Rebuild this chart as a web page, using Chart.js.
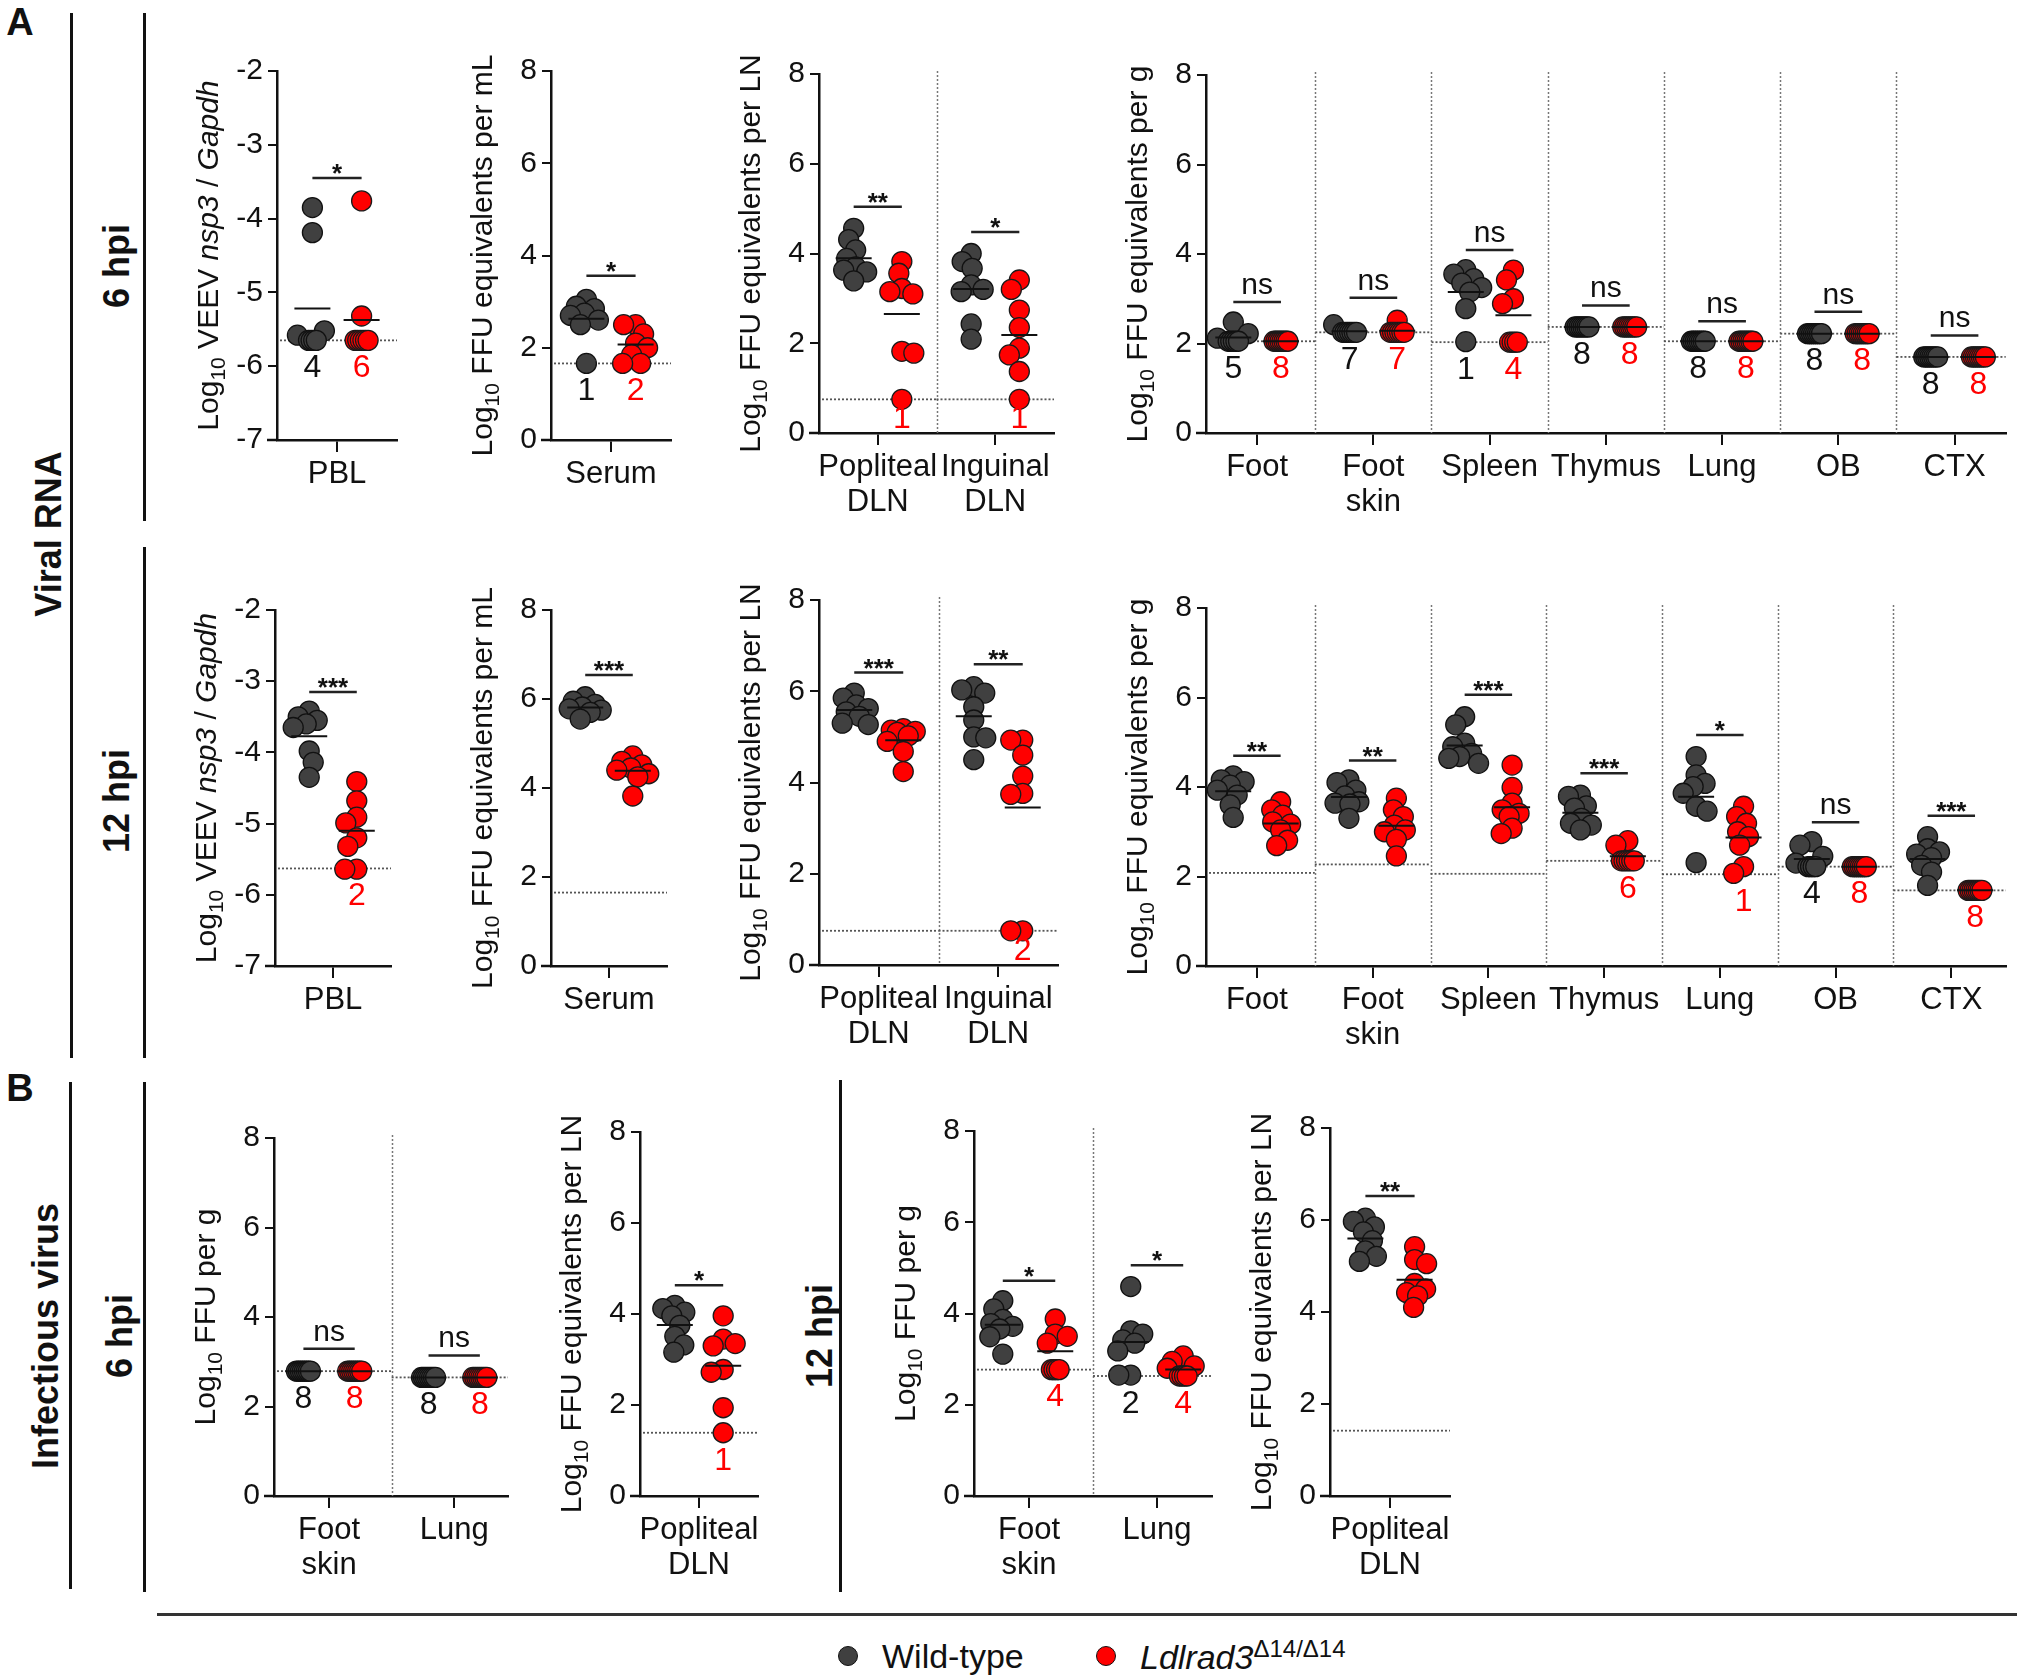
<!DOCTYPE html>
<html>
<head>
<meta charset="utf-8">
<script src="https://cdn.jsdelivr.net/npm/chart.js@4.4.0/dist/chart.umd.min.js"></script>
<style>
body { margin: 0; background: #fff; }
#page { position: relative; width: 2017px; height: 1675px; overflow: hidden; background: #fff;
        font-family: 'Liberation Sans', Arial, sans-serif; color: #111; }
#page canvas { position: absolute; }
.vl { position: absolute; width: 3px; background: #111; }
.hl { position: absolute; height: 3px; background: #333; }
.rot { position: absolute; font-weight: bold; font-size: 36px; white-space: nowrap;
       transform: translate(-50%, -50%) rotate(-90deg); }
.pl { position: absolute; font-weight: bold; font-size: 38px; transform: translate(-50%, -50%); }
.dot { position: absolute; width: 20px; height: 20px; border-radius: 50%; border: 1.5px solid #111;
       transform: translate(-50%, -50%); box-sizing: border-box; }
.lt { position: absolute; font-size: 34px; white-space: nowrap; transform: translateY(-50%); }
</style>
</head>
<body>
<div id="page">
  <div class="pl" style="left:20px;top:22px">A</div>
  <div class="pl" style="left:20px;top:1088px">B</div>

  <div class="vl" style="left:70px;top:13px;height:1045px"></div>
  <div class="vl" style="left:143px;top:13px;height:508px"></div>
  <div class="vl" style="left:143px;top:547px;height:511px"></div>
  <div class="vl" style="left:69px;top:1082px;height:507px"></div>
  <div class="vl" style="left:143px;top:1082px;height:510px"></div>
  <div class="vl" style="left:839px;top:1080px;height:512px"></div>
  <div class="hl" style="left:157px;top:1613px;width:1860px"></div>

  <div class="rot" style="left:49px;top:534px">Viral RNA</div>
  <div class="rot" style="left:117px;top:266px">6 hpi</div>
  <div class="rot" style="left:117px;top:801px">12 hpi</div>
  <div class="rot" style="left:46px;top:1336px">Infectious virus</div>
  <div class="rot" style="left:120px;top:1336px">6 hpi</div>
  <div class="rot" style="left:820px;top:1336px">12 hpi</div>

  <div class="dot" style="left:848px;top:1656px;background:#404040"></div>
  <div class="lt" style="left:882px;top:1656px">Wild-type</div>
  <div class="dot" style="left:1106px;top:1656px;background:#ff0000"></div>
  <div class="lt" style="left:1140px;top:1656px"><i>Ldlrad3</i><sup style="font-size:24px">Δ14/Δ14</sup></div>
</div>

<script>
// categories
const catPbl = ['PBL'];
const catSerum = ['Serum'];
const catLn = [['Popliteal', 'DLN'], ['Inguinal', 'DLN']];
const catTissue = ['Foot', ['Foot', 'skin'], 'Spleen', 'Thymus', 'Lung', 'OB', 'CTX'];
const catSkinLung = [['Foot', 'skin'], 'Lung'];
const catPop = [['Popliteal', 'DLN']];

// A, 6 hpi
const pbl6Wt = [-3.85, -4.19, -5.52, -5.58, -5.65, -5.65, -5.65, -5.65];
const pbl6Ko = [-3.76, -5.32, -5.65, -5.65, -5.65, -5.65, -5.65, -5.65];
const pbl6Lod = [-5.65];
const pbl6Sig = ['*'];
const pbl6SigY = [-3.45];
const pbl6CntWt = [4];
const pbl6CntKo = [6];

const ser6Wt = [3.05, 2.9, 2.85, 2.75, 2.7, 2.6, 2.5, 1.66];
const ser6Ko = [2.5, 2.5, 2.3, 2.1, 2.0, 1.85, 1.66, 1.66];
const ser6Lod = [1.66];
const ser6Sig = ['*'];
const ser6SigY = [3.56];
const ser6CntWt = [1];
const ser6CntKo = [2];

const ln6Wt = [[4.56, 4.31, 4.08, 3.89, 3.7, 3.63, 3.59, 3.39], [4.0, 3.82, 3.67, 3.3, 3.2, 3.15, 2.43, 2.09]];
const ln6Ko = [[3.82, 3.56, 3.22, 3.15, 3.1, 1.82, 1.78, 0.75], [3.41, 3.2, 2.74, 2.35, 1.89, 1.74, 1.37, 0.75]];
const ln6Lod = [0.75, 0.75];
const ln6Sig = ['**', '*'];
const ln6SigY = [5.04, 4.48];
const ln6CntWt = [null, null];
const ln6CntKo = [1, 1];

const tis6Wt = [
  [2.48, 2.22, 2.12, 2.05, 2.05, 2.05, 2.05, 2.05],
  [2.42, 2.25, 2.25, 2.25, 2.25, 2.25, 2.25, 2.25],
  [3.65, 3.55, 3.45, 3.35, 3.25, 3.15, 2.78, 2.04],
  [2.37, 2.37, 2.37, 2.37, 2.37, 2.37, 2.37, 2.37],
  [2.05, 2.05, 2.05, 2.05, 2.05, 2.05, 2.05, 2.05],
  [2.22, 2.22, 2.22, 2.22, 2.22, 2.22, 2.22, 2.22],
  [1.7, 1.7, 1.7, 1.7, 1.7, 1.7, 1.7, 1.7]
];
const tis6Ko = [
  [2.05, 2.05, 2.05, 2.05, 2.05, 2.05, 2.05, 2.05],
  [2.52, 2.25, 2.25, 2.25, 2.25, 2.25, 2.25, 2.25],
  [3.64, 3.42, 3.0, 2.89, 2.03, 2.03, 2.03, 2.03],
  [2.37, 2.37, 2.37, 2.37, 2.37, 2.37, 2.37, 2.37],
  [2.05, 2.05, 2.05, 2.05, 2.05, 2.05, 2.05, 2.05],
  [2.22, 2.22, 2.22, 2.22, 2.22, 2.22, 2.22, 2.22],
  [1.7, 1.7, 1.7, 1.7, 1.7, 1.7, 1.7, 1.7]
];
const tis6Lod = [2.05, 2.25, 2.03, 2.37, 2.05, 2.22, 1.7];
const tis6Sig = ['ns', 'ns', 'ns', 'ns', 'ns', 'ns', 'ns'];
const tis6SigY = [2.93, 3.02, 4.09, 2.85, 2.5, 2.71, 2.18];
const tis6CntWt = [5, 7, 1, 8, 8, 8, 8];
const tis6CntKo = [8, 7, 4, 8, 8, 8, 8];

// A, 12 hpi
const pbl12Wt = [-3.42, -3.5, -3.55, -3.6, -3.65, -3.98, -4.14, -4.35];
const pbl12Ko = [-4.41, -4.68, -4.91, -4.99, -5.2, -5.32, -5.64, -5.64];
const pbl12Lod = [-5.63];
const pbl12Sig = ['***'];
const pbl12SigY = [-3.15];
const pbl12CntWt = [null];
const pbl12CntKo = [2];

const ser12Wt = [6.05, 5.95, 5.88, 5.82, 5.78, 5.75, 5.7, 5.55];
const ser12Ko = [4.72, 4.6, 4.52, 4.45, 4.4, 4.32, 4.25, 3.82];
const ser12Lod = [1.65];
const ser12Sig = ['***'];
const ser12SigY = [6.54];
const ser12CntWt = [null];
const ser12CntKo = [null];

const ln12Wt = [[5.96, 5.85, 5.7, 5.62, 5.55, 5.45, 5.3, 5.27], [6.1, 6.03, 5.96, 5.66, 5.37, 5.0, 4.98, 4.5]];
const ln12Ko = [[5.18, 5.15, 5.12, 5.1, 5.02, 4.9, 4.68, 4.24], [4.93, 4.93, 4.6, 4.14, 3.76, 3.74, 0.75, 0.75]];
const ln12Lod = [0.75, 0.75];
const ln12Sig = ['***', '**'];
const ln12SigY = [6.41, 6.59];
const ln12CntWt = [null, null];
const ln12CntKo = [null, 2];

const tis12Wt = [
  [4.25, 4.16, 4.12, 4.04, 3.93, 3.82, 3.6, 3.32],
  [4.16, 4.1, 3.93, 3.8, 3.67, 3.64, 3.62, 3.3],
  [5.57, 5.39, 4.98, 4.9, 4.75, 4.68, 4.64, 4.53],
  [3.82, 3.79, 3.58, 3.53, 3.3, 3.19, 3.15, 3.04],
  [4.68, 4.27, 4.08, 4.01, 3.86, 3.57, 3.46, 2.31],
  [2.78, 2.7, 2.45, 2.3, 2.22, 2.22, 2.22, 2.22],
  [2.89, 2.62, 2.55, 2.5, 2.42, 2.25, 2.1, 1.8]
];
const tis12Ko = [
  [3.67, 3.49, 3.37, 3.22, 3.17, 3.04, 2.81, 2.69],
  [3.75, 3.49, 3.34, 3.15, 3.04, 3.0, 2.83, 2.46],
  [4.49, 3.99, 3.64, 3.49, 3.41, 3.34, 3.08, 2.96],
  [2.8, 2.7, 2.35, 2.35, 2.35, 2.35, 2.35, 2.35],
  [3.57, 3.34, 3.19, 3.0, 2.89, 2.7, 2.22, 2.07],
  [2.22, 2.22, 2.22, 2.22, 2.22, 2.22, 2.22, 2.22],
  [1.69, 1.69, 1.69, 1.69, 1.69, 1.69, 1.69, 1.69]
];
const tis12Lod = [2.08, 2.27, 2.06, 2.35, 2.05, 2.22, 1.69];
const tis12Sig = ['**', '**', '***', '***', '*', 'ns', '***'];
const tis12SigY = [4.7, 4.59, 6.06, 4.31, 5.16, 3.21, 3.36];
const tis12CntWt = [null, null, null, null, null, 4, null];
const tis12CntKo = [null, null, null, 6, 1, 8, 8];

// B, 6 hpi
const inf6Wt = [[2.79, 2.79, 2.79, 2.79, 2.79, 2.79, 2.79, 2.79], [2.65, 2.65, 2.65, 2.65, 2.65, 2.65, 2.65, 2.65]];
const inf6Ko = [[2.79, 2.79, 2.79, 2.79, 2.79, 2.79, 2.79, 2.79], [2.65, 2.65, 2.65, 2.65, 2.65, 2.65, 2.65, 2.65]];
const inf6Lod = [2.79, 2.65];
const inf6Sig = ['ns', 'ns'];
const inf6SigY = [3.29, 3.14];
const inf6CntWt = [8, 8];
const inf6CntKo = [8, 8];

const pop6Wt = [4.19, 4.12, 4.04, 3.96, 3.75, 3.51, 3.32, 3.16];
const pop6Ko = [3.96, 3.45, 3.35, 3.3, 2.78, 2.72, 1.94, 1.39];
const pop6Lod = [1.39];
const pop6Sig = ['*'];
const pop6SigY = [4.63];
const pop6CntWt = [null];
const pop6CntKo = [1];

// B, 12 hpi
const inf12Wt = [[4.28, 4.1, 3.87, 3.78, 3.72, 3.66, 3.49, 3.11], [4.59, 3.62, 3.55, 3.42, 3.35, 3.18, 2.65, 2.65]];
const inf12Ko = [[3.88, 3.55, 3.5, 3.35, 2.77, 2.77, 2.77, 2.77], [3.07, 2.95, 2.85, 2.8, 2.63, 2.63, 2.63, 2.63]];
const inf12Lod = [2.77, 2.63];
const inf12Sig = ['*', '*'];
const inf12SigY = [4.72, 5.06];
const inf12CntWt = [null, 2];
const inf12CntKo = [4, 4];

const pop12Wt = [6.04, 5.97, 5.85, 5.74, 5.55, 5.33, 5.21, 5.1];
const pop12Ko = [5.42, 5.14, 5.05, 4.62, 4.5, 4.42, 4.35, 4.1];
const pop12Lod = [1.42];
const pop12Sig = ['**'];
const pop12SigY = [6.52];
const pop12CntWt = [null];
const pop12CntKo = [null];

// axis titles: [text, style]
const titleVeev = [['Log', ''], ['10', 'sub'], [' VEEV ', ''], ['nsp3', 'i'], [' / ', ''], ['Gapdh', 'i']];
const titleMl = [['Log', ''], ['10', 'sub'], [' FFU equivalents per mL', '']];
const titleLn = [['Log', ''], ['10', 'sub'], [' FFU equivalents per LN', '']];
const titleG = [['Log', ''], ['10', 'sub'], [' FFU equivalents per g', '']];
const titleFfuG = [['Log', ''], ['10', 'sub'], [' FFU per g', '']];

const FAM = "'Liberation Sans', Arial, sans-serif";
const WT_FILL = '#404040';
const KO_FILL = '#ff0000';
const SHIFT = 0.205;   // WT / KO offset from the category centre
const YW = 118;        // room left of the y axis
const XH = 95;         // room under the x axis
const TOP = 45;

// spread tied / close points sideways like a scatter-dot plot
function swarmOffsets(vals, ppy) {
  const pts = vals.map((v, i) => ({ i: i, y: -v * ppy, dx: 0 }));
  const sorted = pts.slice().sort((a, b) => a.y - b.y);
  const placed = [];
  const done = new Set();
  let k = 0;
  while (k < sorted.length) {
    let j = k;
    while (j + 1 < sorted.length && Math.abs(sorted[j + 1].y - sorted[k].y) < 1.5) j++;
    const n = j - k + 1;
    if (n >= 3) {
      const s = Math.min(7, 1.3 * (n - 1));
      for (let m = 0; m < n; m++) {
        const p = sorted[k + m];
        p.dx = -s + (2 * s * m) / (n - 1);
        placed.push(p);
        done.add(p.i);
      }
    }
    k = j + 1;
  }
  sorted.forEach(p => {
    if (done.has(p.i)) return;
    let best = 0, bestD = -1, ok = false;
    for (let step = 0; step <= 16 && !ok; step++) {
      const cands = step === 0 ? [0] : (placed.length % 2 ? [-step, step] : [step, -step]);
      for (const o of cands) {
        const d = placed.reduce((m, q) => Math.min(m, Math.hypot(o - q.dx, p.y - q.y)), Infinity);
        if (d >= 12) { best = o; ok = true; break; }
        if (d > bestD) { bestD = d; best = o; }
      }
    }
    p.dx = best;
    placed.push(p);
  });
  return pts.map(p => p.dx);
}

function groupPoints(groups, side, ppx, ppy) {
  const out = [];
  groups.forEach((vals, gi) => {
    const dx = swarmOffsets(vals, ppy);
    vals.forEach((v, k) => out.push({ x: gi + side * SHIFT + dx[k] / ppx, y: v }));
  });
  return out;
}

function mean(a) {
  return a.reduce((s, v) => s + v, 0) / a.length;
}

function drawTitle(ctx, segs, cx, cy) {
  const fonts = { '': '30px ' + FAM, i: 'italic 30px ' + FAM, sub: '21px ' + FAM };
  ctx.save();
  ctx.translate(cx, cy);
  ctx.rotate(-Math.PI / 2);
  let total = 0;
  segs.forEach(([t, s]) => { ctx.font = fonts[s]; total += ctx.measureText(t).width; });
  let x = -total / 2;
  ctx.fillStyle = '#111';
  ctx.textBaseline = 'alphabetic';
  ctx.textAlign = 'left';
  segs.forEach(([t, s]) => {
    ctx.font = fonts[s];
    ctx.fillText(t, x, s === 'sub' ? 18 : 11);
    x += ctx.measureText(t).width;
  });
  ctx.restore();
}

function marksFor(p) {
  return {
    id: 'marks',
    beforeDatasetsDraw(chart) {
      const ctx = chart.ctx, xs = chart.scales.x, ys = chart.scales.y, a = chart.chartArea;
      ctx.save();
      // x axis runs on under the y ticks, as in Prism
      ctx.strokeStyle = '#111';
      ctx.lineWidth = 2.5;
      ctx.beginPath();
      ctx.moveTo(a.left - 10, a.bottom);
      ctx.lineTo(a.left, a.bottom);
      ctx.stroke();
      ctx.setLineDash([2, 2]);
      // separators between categories
      ctx.strokeStyle = '#777';
      ctx.lineWidth = 1.5;
      for (let i = 0; i < p.cats.length - 1; i++) {
        const x = Math.round(xs.getPixelForValue(i + 0.5)) + 0.5;
        ctx.beginPath();
        ctx.moveTo(x, a.top - 3);
        ctx.lineTo(x, a.bottom);
        ctx.stroke();
      }
      // limit of detection
      ctx.strokeStyle = '#555';
      ctx.lineWidth = 1.8;
      p.lod.forEach((v, i) => {
        const y = ys.getPixelForValue(v);
        const xa = Math.max(a.left + 3, xs.getPixelForValue(i - 0.5));
        const xb = Math.min(a.right, xs.getPixelForValue(i + 0.5));
        ctx.beginPath();
        ctx.moveTo(xa, y);
        ctx.lineTo(xb, y);
        ctx.stroke();
      });
      ctx.restore();
    },
    afterDatasetsDraw(chart) {
      const ctx = chart.ctx, xs = chart.scales.x, ys = chart.scales.y, a = chart.chartArea;
      ctx.save();
      // group means
      ctx.strokeStyle = '#111';
      ctx.lineWidth = 2;
      [[p.wt, -1], [p.ko, 1]].forEach(([groups, side]) => {
        groups.forEach((vals, i) => {
          const x = xs.getPixelForValue(i + side * SHIFT);
          const y = ys.getPixelForValue(mean(vals));
          ctx.beginPath();
          ctx.moveTo(x - 18, y);
          ctx.lineTo(x + 18, y);
          ctx.stroke();
        });
      });
      // significance
      p.sig.forEach((s, i) => {
        const xa = xs.getPixelForValue(i - SHIFT), xb = xs.getPixelForValue(i + SHIFT);
        const y = ys.getPixelForValue(p.sigY[i]);
        ctx.strokeStyle = '#222';
        ctx.lineWidth = 2.5;
        ctx.beginPath();
        ctx.moveTo(xa, y);
        ctx.lineTo(xb, y);
        ctx.stroke();
        ctx.fillStyle = '#111';
        ctx.textAlign = 'center';
        ctx.textBaseline = 'alphabetic';
        if (s === 'ns') {
          ctx.font = '30px ' + FAM;
          ctx.fillText(s, (xa + xb) / 2, y - 8);
        } else {
          ctx.font = 'bold 26px ' + FAM;
          ctx.fillText(s, (xa + xb) / 2, y + 4);
        }
      });
      // number of animals at the limit of detection
      ctx.font = '32px ' + FAM;
      ctx.textAlign = 'center';
      ctx.textBaseline = 'middle';
      [[p.cntWt, -1, '#111'], [p.cntKo, 1, '#ff0000']].forEach(([cnt, side, col]) => {
        cnt.forEach((n, i) => {
          if (n === null) return;
          const x = xs.getPixelForValue(i + side * SHIFT);
          const y = Math.min(ys.getPixelForValue(p.lod[i]) + 28, a.bottom - 14);
          ctx.fillStyle = col;
          ctx.fillText(String(n), x, y);
        });
      });
      ctx.restore();
    },
    afterDraw(chart) {
      const a = chart.chartArea;
      drawTitle(chart.ctx, p.title, a.left - 70, (a.top + a.bottom) / 2);
    }
  };
}

const page = document.getElementById('page');

function makePanel(p) {
  const L = p.x0 - YW, T = p.yT - TOP;
  const R = Math.min(p.x1 + 22, 2017);
  const W = R - L, H = p.yB + XH - T;
  const cv = document.createElement('canvas');
  cv.width = W;
  cv.height = H;
  cv.style.left = L + 'px';
  cv.style.top = T + 'px';
  cv.style.width = W + 'px';
  cv.style.height = H + 'px';
  page.appendChild(cv);
  const ppx = (p.x1 - p.x0) / (p.xmax - p.xmin);
  const ppy = (p.yB - p.yT) / (p.ymax - p.ymin);
  const axisLine = { display: true, color: '#111', width: 2.5 };
  new Chart(cv.getContext('2d'), {
    type: 'scatter',
    data: {
      datasets: [
        {
          label: 'Wild-type',
          data: groupPoints(p.wt, -1, ppx, ppy),
          pointRadius: 10,
          pointBackgroundColor: WT_FILL,
          pointBorderColor: '#111',
          pointBorderWidth: 1.3,
          clip: false
        },
        {
          label: 'Ldlrad3 Δ14/Δ14',
          data: groupPoints(p.ko, 1, ppx, ppy),
          pointRadius: 10,
          pointBackgroundColor: KO_FILL,
          pointBorderColor: '#1a1a1a',
          pointBorderWidth: 1.3,
          clip: false
        }
      ]
    },
    options: {
      responsive: false,
      animation: false,
      devicePixelRatio: 1,
      events: [],
      layout: { padding: { left: 0, top: TOP, right: W - (p.x1 - L), bottom: 0 } },
      plugins: { legend: { display: false }, tooltip: { enabled: false } },
      scales: {
        x: {
          type: 'linear',
          min: p.xmin,
          max: p.xmax,
          afterBuildTicks: s => { s.ticks = p.cats.map((c, i) => ({ value: i })); },
          afterFit: s => { s.height = XH; },
          ticks: {
            autoSkip: false,
            maxRotation: 0,
            callback: (v, i) => p.cats[i],
            font: { family: FAM, size: 31, lineHeight: 1.12 },
            color: '#111',
            padding: 5
          },
          grid: { drawOnChartArea: false, tickLength: 12, color: '#111', lineWidth: 2 },
          border: axisLine
        },
        y: {
          min: p.ymin,
          max: p.ymax,
          afterFit: s => { s.width = YW; },
          ticks: { stepSize: p.step, font: { family: FAM, size: 30 }, color: '#111', padding: 5 },
          grid: { drawOnChartArea: false, tickLength: 9, color: '#111', lineWidth: 2 },
          border: axisLine
        }
      }
    },
    plugins: [marksFor(p)]
  });
}

const panels = [
  { x0: 277, x1: 397, yT: 71, yB: 440, xmin: -0.5, xmax: 0.5, ymin: -7, ymax: -2, step: 1, cats: catPbl,
    wt: [pbl6Wt], ko: [pbl6Ko], lod: pbl6Lod, sig: pbl6Sig, sigY: pbl6SigY, cntWt: pbl6CntWt, cntKo: pbl6CntKo, title: titleVeev },
  { x0: 551, x1: 671, yT: 71, yB: 440, xmin: -0.5, xmax: 0.5, ymin: 0, ymax: 8, step: 2, cats: catSerum,
    wt: [ser6Wt], ko: [ser6Ko], lod: ser6Lod, sig: ser6Sig, sigY: ser6SigY, cntWt: ser6CntWt, cntKo: ser6CntKo, title: titleMl },
  { x0: 819, x1: 1054, yT: 74, yB: 433, xmin: -0.5, xmax: 1.5, ymin: 0, ymax: 8, step: 2, cats: catLn,
    wt: ln6Wt, ko: ln6Ko, lod: ln6Lod, sig: ln6Sig, sigY: ln6SigY, cntWt: ln6CntWt, cntKo: ln6CntKo, title: titleLn },
  { x0: 1206, x1: 2011, yT: 75, yB: 433, xmin: -0.44, xmax: 6.44, ymin: 0, ymax: 8, step: 2, cats: catTissue,
    wt: tis6Wt, ko: tis6Ko, lod: tis6Lod, sig: tis6Sig, sigY: tis6SigY, cntWt: tis6CntWt, cntKo: tis6CntKo, title: titleG },

  { x0: 275, x1: 391, yT: 610, yB: 966, xmin: -0.5, xmax: 0.5, ymin: -7, ymax: -2, step: 1, cats: catPbl,
    wt: [pbl12Wt], ko: [pbl12Ko], lod: pbl12Lod, sig: pbl12Sig, sigY: pbl12SigY, cntWt: pbl12CntWt, cntKo: pbl12CntKo, title: titleVeev },
  { x0: 551, x1: 667, yT: 610, yB: 966, xmin: -0.5, xmax: 0.5, ymin: 0, ymax: 8, step: 2, cats: catSerum,
    wt: [ser12Wt], ko: [ser12Ko], lod: ser12Lod, sig: ser12Sig, sigY: ser12SigY, cntWt: ser12CntWt, cntKo: ser12CntKo, title: titleMl },
  { x0: 819, x1: 1058, yT: 600, yB: 965, xmin: -0.5, xmax: 1.5, ymin: 0, ymax: 8, step: 2, cats: catLn,
    wt: ln12Wt, ko: ln12Ko, lod: ln12Lod, sig: ln12Sig, sigY: ln12SigY, cntWt: ln12CntWt, cntKo: ln12CntKo, title: titleLn },
  { x0: 1206, x1: 2011, yT: 608, yB: 966, xmin: -0.44, xmax: 6.47, ymin: 0, ymax: 8, step: 2, cats: catTissue,
    wt: tis12Wt, ko: tis12Ko, lod: tis12Lod, sig: tis12Sig, sigY: tis12SigY, cntWt: tis12CntWt, cntKo: tis12CntKo, title: titleG },

  { x0: 274, x1: 508, yT: 1138, yB: 1496, xmin: -0.44, xmax: 1.43, ymin: 0, ymax: 8, step: 2, cats: catSkinLung,
    wt: inf6Wt, ko: inf6Ko, lod: inf6Lod, sig: inf6Sig, sigY: inf6SigY, cntWt: inf6CntWt, cntKo: inf6CntKo, title: titleFfuG },
  { x0: 640, x1: 758, yT: 1132, yB: 1496, xmin: -0.5, xmax: 0.5, ymin: 0, ymax: 8, step: 2, cats: catPop,
    wt: [pop6Wt], ko: [pop6Ko], lod: pop6Lod, sig: pop6Sig, sigY: pop6SigY, cntWt: pop6CntWt, cntKo: pop6CntKo, title: titleLn },
  { x0: 974, x1: 1212, yT: 1131, yB: 1496, xmin: -0.43, xmax: 1.43, ymin: 0, ymax: 8, step: 2, cats: catSkinLung,
    wt: inf12Wt, ko: inf12Ko, lod: inf12Lod, sig: inf12Sig, sigY: inf12SigY, cntWt: inf12CntWt, cntKo: inf12CntKo, title: titleFfuG },
  { x0: 1330, x1: 1450, yT: 1128, yB: 1496, xmin: -0.5, xmax: 0.5, ymin: 0, ymax: 8, step: 2, cats: catPop,
    wt: [pop12Wt], ko: [pop12Ko], lod: pop12Lod, sig: pop12Sig, sigY: pop12SigY, cntWt: pop12CntWt, cntKo: pop12CntKo, title: titleLn }
];

panels.forEach(makePanel);
</script>
</body>
</html>
